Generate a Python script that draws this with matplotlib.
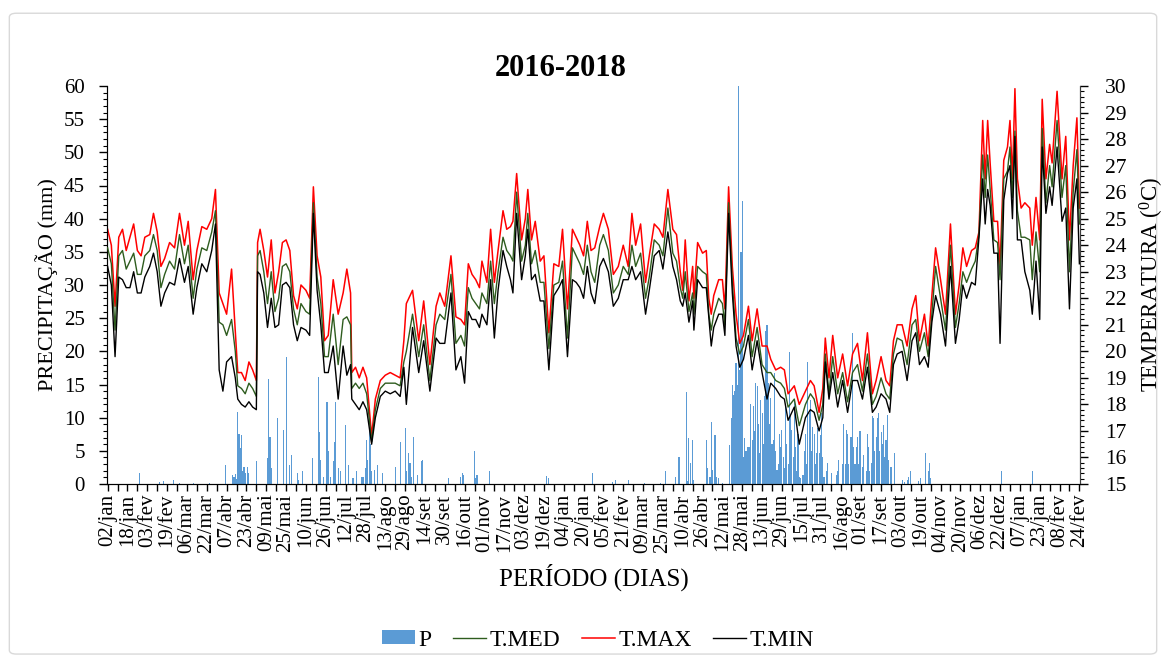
import numpy as np
import matplotlib
matplotlib.use("Agg")
import matplotlib.pyplot as plt
from matplotlib.patches import FancyBboxPatch
from matplotlib.ticker import MultipleLocator

plt.rcParams['font.family'] = ['Liberation Serif', 'DejaVu Serif']
plt.rcParams['mathtext.fontset'] = 'custom'
plt.rcParams['mathtext.rm'] = 'Liberation Serif'

# ---- tick labels (every 16 days from 02/jan/2016) ----
tick_labels = ["02/jan", "18/jan", "03/fev", "19/fev", "06/mar", "22/mar", "07/abr", "23/abr",
               "09/mai", "25/mai", "10/jun", "26/jun", "12/jul", "28/jul", "13/ago", "29/ago",
               "14/set", "30/set", "16/out", "01/nov", "17/nov", "03/dez", "19/dez", "04/jan",
               "20/jan", "05/fev", "21/fev", "09/mar", "25/mar", "10/abr", "26/abr", "12/mai",
               "28/mai", "13/jun", "29/jun", "15/jul", "31/jul", "16/ago", "01/set", "17/set",
               "03/out", "19/out", "04/nov", "20/nov", "06/dez", "22/dez", "07/jan", "23/jan",
               "08/fev", "24/fev"]

# ---- temperature (day index since 02/jan/2016) ----
temp_day = [0, 3, 6, 9, 12, 15, 18, 21, 24, 27, 30, 34, 37, 40, 43, 46, 50, 54, 58, 62, 65, 69, 72, 76,
            80, 84, 87, 90, 93, 96, 100, 103, 105, 108, 111, 114, 117, 120, 121, 123, 126, 129, 132,
            135, 138, 141, 144, 147, 150, 153, 156, 160, 163, 166, 169, 172, 175, 178, 182, 186, 190,
            193, 196, 197, 200, 203, 206, 209, 213, 216, 220, 224, 228, 232, 236, 239, 241, 246, 251,
            255, 260, 265, 268, 272, 277, 281, 285, 288, 291, 294, 297, 300, 302, 306, 309, 312, 315,
            319, 322, 325, 327, 330, 334, 337, 339, 342, 345, 349, 352, 356, 360, 364, 367, 371, 375,
            378, 381, 384, 387, 390, 393, 397, 400, 404, 408, 412, 416, 420, 423, 426, 430, 434, 437,
            441, 445, 448, 452, 456, 459, 462, 464, 466, 469, 472, 473, 476, 480, 483, 485, 487, 489,
            493, 496, 498, 501, 504, 507, 510, 513, 517, 520, 524, 528, 532, 535, 539, 543, 546, 549,
            554, 558, 563, 567, 570, 574, 577, 579, 582, 585, 589, 593, 597, 601, 605, 609, 613, 617,
            620, 624, 628, 631, 634, 637, 641, 645, 649, 652, 655, 659, 662, 665, 668, 672, 676, 680,
            684, 687, 690, 693, 697, 700, 703, 706, 708, 710, 712, 715, 718, 720, 723, 726, 728, 730,
            732, 734, 737, 740, 744, 746, 749, 752, 754, 757, 760, 762, 766, 770, 773, 776, 779, 782, 784]

t_max = [24.6, 24.0, 21.7, 24.3, 24.6, 23.8, 24.3, 24.8, 23.8, 23.6, 24.3, 24.4, 25.2, 24.5, 23.2, 23.5,
         24.1, 23.9, 25.2, 24.0, 24.9, 22.7, 23.8, 24.7, 24.6, 25.0, 26.1, 22.2, 21.8, 21.4, 23.1, 20.8,
         19.2, 19.2, 18.9, 19.6, 19.3, 18.9, 24.1, 24.6, 23.8, 22.8, 24.2, 22.2, 23.0, 24.1, 24.2, 23.8,
         22.1, 21.6, 22.5, 22.3, 22.0, 26.2, 23.6, 22.8, 20.4, 20.6, 22.7, 21.4, 22.2, 23.1, 22.2, 19.2,
         19.4, 19.0, 19.4, 19.0, 16.8, 18.2, 18.9, 19.1, 19.2, 19.1, 19.0, 20.4, 21.8, 22.3, 20.4, 21.9,
         19.5, 21.7, 22.2, 21.7, 23.6, 21.3, 21.2, 21.0, 23.3, 22.9, 22.7, 22.4, 23.4, 22.6, 24.6, 22.6,
         23.8, 25.3, 24.6, 24.7, 24.9, 26.7, 24.2, 25.0, 26.1, 24.2, 24.9, 23.4, 23.6, 20.7, 23.3, 23.2,
         24.6, 21.6, 24.6, 24.3, 24.0, 23.6, 24.9, 23.8, 23.9, 24.7, 25.2, 24.6, 22.9, 23.2, 24.0, 23.2,
         25.2, 24.0, 24.8, 22.6, 23.6, 24.8, 24.6, 24.3, 26.1, 24.6, 24.4, 23.0, 22.3, 24.2, 21.9, 23.2,
         22.0, 24.1, 23.7, 23.8, 22.0, 21.4, 22.1, 22.7, 22.7, 21.6, 26.2, 23.2, 21.4, 20.3, 20.6, 21.7,
         20.4, 21.6, 20.2, 20.2, 19.7, 19.3, 19.4, 19.3, 18.4, 18.7, 18.0, 18.5, 18.9, 18.7, 17.7, 18.6,
         20.5, 19.0, 20.6, 19.0, 19.9, 18.7, 19.9, 20.3, 18.9, 20.7, 18.4, 18.9, 19.8, 18.9, 18.7, 20.4,
         21.0, 21.0, 20.2, 21.6, 22.1, 20.4, 21.4, 20.2, 22.1, 23.9, 22.7, 21.4, 24.8, 21.4, 22.5, 23.9,
         23.2, 23.8, 23.9, 24.5, 28.7, 26.5, 28.7, 27.1, 24.9, 24.9, 23.2, 27.2, 27.7, 28.7, 26.5, 29.9,
         26.5, 25.4, 25.6, 25.4, 24.0, 25.8, 24.2, 29.5, 26.5, 27.8, 27.1, 29.8, 26.5, 28.1, 24.2, 27.0,
         28.8, 25.4]

t_med = [23.9, 23.3, 20.8, 23.6, 23.8, 23.1, 23.4, 23.7, 22.9, 22.9, 23.6, 23.8, 24.4, 23.8, 22.4, 22.9,
         23.4, 23.1, 24.4, 23.3, 24.0, 22.0, 23.1, 23.9, 23.8, 24.5, 25.3, 21.1, 21.0, 20.6, 21.2, 20.0,
         18.7, 18.6, 18.4, 18.8, 18.6, 18.3, 23.6, 23.8, 23.0, 21.8, 23.0, 21.5, 22.0, 23.2, 23.3, 23.0,
         21.6, 21.0, 21.8, 21.5, 21.4, 25.6, 22.8, 21.8, 19.8, 19.8, 21.4, 19.5, 21.2, 21.3, 21.0, 18.6,
         18.8, 18.6, 18.8, 18.4, 16.6, 17.8, 18.6, 18.8, 18.8, 18.8, 18.7, 19.6, 20.0, 21.4, 19.8, 21.0,
         18.9, 21.0, 21.4, 21.2, 22.9, 20.3, 20.6, 20.2, 22.4, 22.0, 21.8, 21.6, 22.2, 21.8, 23.4, 21.8,
         23.0, 24.3, 23.8, 23.6, 23.4, 26.0, 23.4, 24.0, 25.2, 23.3, 23.8, 22.6, 22.6, 20.1, 22.5, 22.6,
         23.4, 20.5, 23.9, 23.6, 23.3, 22.9, 24.0, 23.0, 22.6, 24.0, 24.4, 23.8, 22.2, 22.5, 23.2, 22.9,
         24.0, 23.2, 23.7, 22.0, 22.8, 24.2, 24.0, 23.6, 25.4, 23.7, 23.4, 22.4, 22.0, 23.0, 21.5, 22.2,
         21.4, 23.2, 23.0, 22.9, 21.4, 20.8, 21.4, 22.0, 21.8, 21.0, 25.6, 22.6, 20.5, 19.9, 20.2, 21.2,
         19.8, 20.9, 19.5, 19.2, 19.2, 18.9, 18.8, 18.6, 17.9, 18.2, 17.2, 18.0, 18.4, 18.2, 17.4, 18.0,
         19.9, 18.4, 19.8, 18.4, 19.2, 18.1, 19.2, 19.5, 18.5, 19.9, 18.0, 18.3, 19.0, 18.4, 18.2, 19.9,
         20.5, 20.4, 19.5, 21.0, 21.2, 20.0, 20.7, 19.8, 21.4, 23.2, 22.0, 20.8, 24.0, 20.9, 21.8, 23.0,
         22.6, 23.1, 23.4, 24.4, 27.4, 25.8, 27.4, 26.1, 24.2, 24.1, 22.7, 26.5, 26.8, 27.7, 25.8, 28.3,
         25.3, 24.3, 24.3, 24.2, 22.7, 24.5, 23.0, 28.4, 25.6, 27.0, 26.2, 28.7, 25.8, 27.0, 23.0, 26.0,
         27.6, 24.8]

t_min = [23.2, 22.5, 19.8, 22.8, 22.7, 22.4, 22.4, 23.0, 22.2, 22.2, 22.8, 23.2, 23.7, 23.0, 21.7, 22.2,
         22.6, 22.5, 23.5, 22.6, 23.2, 21.4, 22.4, 23.3, 23.0, 23.8, 24.8, 19.3, 18.5, 19.6, 19.8, 19.0,
         18.2, 18.0, 17.9, 18.1, 17.9, 17.8, 23.0, 22.9, 22.2, 20.9, 22.0, 20.9, 21.0, 22.5, 22.6, 22.4,
         21.0, 20.4, 20.9, 20.8, 20.6, 25.2, 22.3, 21.0, 19.2, 19.2, 20.2, 18.2, 20.2, 19.1, 19.5, 18.2,
         18.0, 17.8, 18.1, 17.8, 16.5, 17.5, 18.3, 18.5, 18.4, 18.5, 18.3, 19.4, 18.0, 20.9, 19.2, 20.4,
         18.5, 20.5, 20.3, 20.3, 22.2, 19.3, 19.8, 18.8, 21.5, 21.2, 21.2, 20.9, 21.4, 21.0, 22.7, 20.5,
         22.3, 23.8, 23.2, 22.7, 22.2, 25.2, 22.7, 23.6, 24.6, 22.7, 22.9, 21.9, 21.9, 19.3, 22.1, 22.4,
         22.7, 19.8, 22.7, 22.6, 22.4, 22.0, 23.2, 22.2, 21.8, 23.2, 23.5, 23.0, 21.7, 22.0, 22.7, 22.7,
         23.2, 22.7, 23.0, 21.4, 22.3, 23.6, 23.8, 23.1, 24.5, 23.2, 22.7, 21.9, 21.7, 22.2, 21.1, 21.9,
         20.8, 22.7, 22.4, 22.4, 21.3, 20.2, 20.9, 21.4, 21.4, 20.6, 25.2, 22.2, 20.2, 19.4, 19.7, 20.6,
         19.3, 20.4, 19.2, 18.2, 18.8, 18.6, 18.3, 18.2, 17.4, 17.9, 16.5, 17.5, 17.8, 17.7, 17.0, 17.5,
         19.6, 18.2, 19.2, 17.9, 18.9, 17.7, 18.9, 18.9, 18.2, 19.4, 17.7, 17.9, 18.4, 18.2, 17.7, 19.5,
         19.9, 20.0, 18.9, 20.4, 20.7, 19.5, 19.8, 19.4, 21.1, 22.1, 21.4, 20.2, 23.2, 20.3, 21.2, 22.5,
         22.0, 22.6, 22.5, 24.3, 26.5, 24.8, 26.1, 25.5, 23.7, 23.7, 20.3, 25.7, 26.7, 27.0, 25.0, 28.1,
         24.2, 24.2, 23.0, 22.3, 21.4, 23.4, 21.2, 27.7, 25.2, 26.2, 25.5, 27.7, 24.9, 25.4, 21.6, 25.4,
         26.5, 23.3]

# ---- precipitation (rainy days only) ----
rain_day = [26, 42, 45, 53, 58, 69, 82, 95, 101, 102, 103, 104, 105, 106, 107, 108, 109, 110, 111, 113,
            114, 120, 129, 130, 131, 132, 137, 142, 144, 147, 148, 153, 154, 157, 165, 170, 171, 172, 174,
            177, 178, 180, 182, 183, 184, 186, 188, 192, 194, 198, 201, 205, 206, 208, 209, 210, 211, 212,
            213, 215, 218, 222, 232, 236, 240, 241, 243, 244, 245, 247, 250, 253, 254, 275, 285, 286, 287,
            296, 297, 298, 308, 354, 356, 391, 407, 410, 420, 433, 446, 450, 458, 461, 467, 468, 469, 470,
            472, 473, 483, 484, 486, 487, 488, 490, 491, 493, 496, 502, 503, 504, 505, 506, 507, 508, 509,
            510, 511, 512, 513, 514, 515, 516, 517, 518, 519, 520, 521, 522, 523, 524, 525, 526, 527, 528,
            529, 530, 531, 532, 533, 534, 535, 536, 537, 538, 539, 540, 541, 542, 543, 544, 545, 546, 547,
            548, 549, 550, 551, 552, 553, 554, 555, 556, 557, 558, 559, 561, 562, 563, 564, 565, 566, 567,
            568, 569, 570, 571, 572, 573, 574, 575, 576, 577, 578, 580, 581, 584, 588, 589, 590, 593, 594,
            595, 596, 597, 598, 599, 600, 601, 602, 603, 604, 605, 606, 607, 609, 610, 612, 613, 614, 615,
            616, 617, 618, 619, 620, 621, 622, 623, 624, 625, 626, 627, 628, 629, 630, 632, 635, 641, 643,
            645, 646, 648, 654, 656, 660, 662, 663, 664, 721, 746]

rain_mm = [1.7, 0.3, 0.4, 0.6, 0.2, 0.2, 0.2, 2.9, 1.4, 1.0, 1.5, 0.8, 10.9, 7.6, 5.4, 7.4, 2.0, 2.6, 1.6, 2.6,
           1.6, 3.4, 3.9, 15.9, 7.1, 2.4, 9.9, 8.1, 19.2, 2.9, 4.4, 1.6, 0.6, 1.9, 3.9, 16.2, 7.9, 3.6, 1.1,
           12.4, 4.9, 1.1, 3.4, 6.4, 12.4, 2.4, 1.9, 8.9, 2.9, 0.9, 1.9, 1.1, 1.1, 2.4, 6.6, 3.6, 8.5, 6.1,
           1.9, 2.1, 2.9, 1.6, 2.6, 6.4, 8.4, 1.9, 4.6, 3.1, 1.1, 7.1, 1.4, 3.4, 3.6, 0.9, 1.1, 1.6, 1.4,
           4.9, 0.9, 1.4, 1.9, 1.2, 0.9, 1.6, 0.35, 0.6, 0.6, 0.1, 0.1, 1.9, 1.1, 4.1, 13.9, 0.4, 6.9, 3.1,
           6.6, 0.6, 6.6, 2.4, 1.1, 9.4, 2.1, 7.4, 1.1, 0.9, 0.2, 5.9, 9.9, 14.9, 13.4, 14.0, 18.2, 15.0, 60.1,
           17.2, 35.0, 42.6, 4.1, 6.9, 5.0, 5.6, 5.6, 5.6, 12.0, 6.6, 11.7, 8.0, 15.2, 14.7, 9.0, 4.6, 12.7, 10.7,
           6.0, 13.2, 23.0, 24.0, 15.2, 9.0, 13.0, 6.1, 6.6, 16.7, 5.0, 2.1, 3.0, 7.6, 5.6, 8.1, 4.0, 2.4, 11.7,
           6.1, 3.0, 19.9, 10.2, 8.1, 4.0, 12.7, 5.6, 2.0, 7.6, 1.0, 0.9, 1.4, 4.9, 7.6, 3.0, 18.4, 10.7, 12.7,
           5.0, 8.6, 7.6, 3.0, 4.6, 8.4, 4.6, 7.4, 10.7, 4.1, 1.0, 1.9, 3.1, 1.6, 1.4, 2.0, 3.6, 3.0, 9.1,
           3.0, 8.1, 7.6, 3.0, 7.1, 7.1, 22.7, 5.6, 3.0, 5.6, 7.1, 3.0, 8.0, 2.6, 4.4, 2.0, 7.6, 5.6, 2.0,
           3.1, 10.2, 9.9, 5.0, 7.1, 9.9, 10.7, 5.0, 7.9, 6.1, 8.9, 4.0, 6.6, 10.4, 3.6, 2.6, 4.6, 0.6, 0.3,
           0.6, 1.0, 1.9, 0.4, 0.9, 4.6, 1.9, 3.1, 0.9, 1.9, 1.9]

n_days = 785

fig = plt.figure(figsize=(11.66, 6.62), dpi=100)
border = FancyBboxPatch((0.008, 0.012), 0.984, 0.968, boxstyle="round,pad=0,rounding_size=0.006",
                        transform=fig.transFigure, facecolor='white', edgecolor='#d9d9d9', lw=1.0, zorder=-10)
fig.patches.append(border)

ax = fig.add_axes([107/1166, 1 - 484/662, (1080-107)/1166, (484-86)/662])
ax.set_facecolor('none')
bars = ax.bar(rain_day, rain_mm, width=0.9, color='#5B9BD5', linewidth=0, label='P', zorder=1)
ax.set_ylim(0, 60)
ax.set_xlim(-0.5, n_days - 0.5)
ax.yaxis.set_major_locator(MultipleLocator(5))
ax.yaxis.set_minor_locator(MultipleLocator(1))
ax.set_xticks(np.arange(0, n_days, 16))
ax.set_xticks(np.arange(0, n_days, 8), minor=True)
ax.set_xticklabels(tick_labels, rotation=90, fontsize=15)
ax.tick_params(axis='y', labelsize=15, direction='out', length=6, width=1, pad=10)
ax.tick_params(axis='y', which='minor', direction='out', length=3, width=0.8)
ax.tick_params(axis='x', which='both', direction='out', length=5, width=1, pad=2)
ax.set_ylabel('PRECIPITAÇÃO (mm)', fontsize=16, labelpad=4)
ax.set_xlabel('PERÍODO (DIAS)', fontsize=18, labelpad=8)
ax.spines['top'].set_visible(False)
for s in ['left', 'bottom', 'right']:
    ax.spines[s].set_color('#404040')

ax2 = ax.twinx()
l_med, = ax2.plot(temp_day, t_med, color='#2E5C1E', lw=1.0, label='T.MED', zorder=3)
l_max, = ax2.plot(temp_day, t_max, color='#FF0000', lw=1.1, label='T.MAX', zorder=2)
l_min, = ax2.plot(temp_day, t_min, color='#000000', lw=1.0, label='T.MIN', zorder=4)
ax2.set_ylim(15, 30)
ax2.yaxis.set_major_locator(MultipleLocator(1))
ax2.yaxis.set_minor_locator(MultipleLocator(0.2))
ax2.tick_params(axis='y', labelsize=15.5, direction='out', length=6, width=1, pad=12)
ax2.tick_params(axis='y', which='minor', direction='out', length=3, width=0.8)
ax2.set_ylabel(r'TEMPERATURA ($\mathregular{^0}$C)', fontsize=16.5, labelpad=8)
ax2.spines['top'].set_visible(False)
ax2.spines['right'].set_color('#404040')

fig.text(561/1166, 1 - 68/662, '2016-2018', ha='center', va='center', fontsize=22, fontweight='bold')

fig.legend([bars, l_med, l_max, l_min], ['P', 'T.MED', 'T.MAX', 'T.MIN'],
           loc='center', bbox_to_anchor=(598/1166, 1 - 640/662), ncol=4, frameon=False,
           fontsize=17, handlelength=1.4, handletextpad=0.15, columnspacing=0.9, handleheight=0.5)

fig.savefig('out.png', dpi=100)
